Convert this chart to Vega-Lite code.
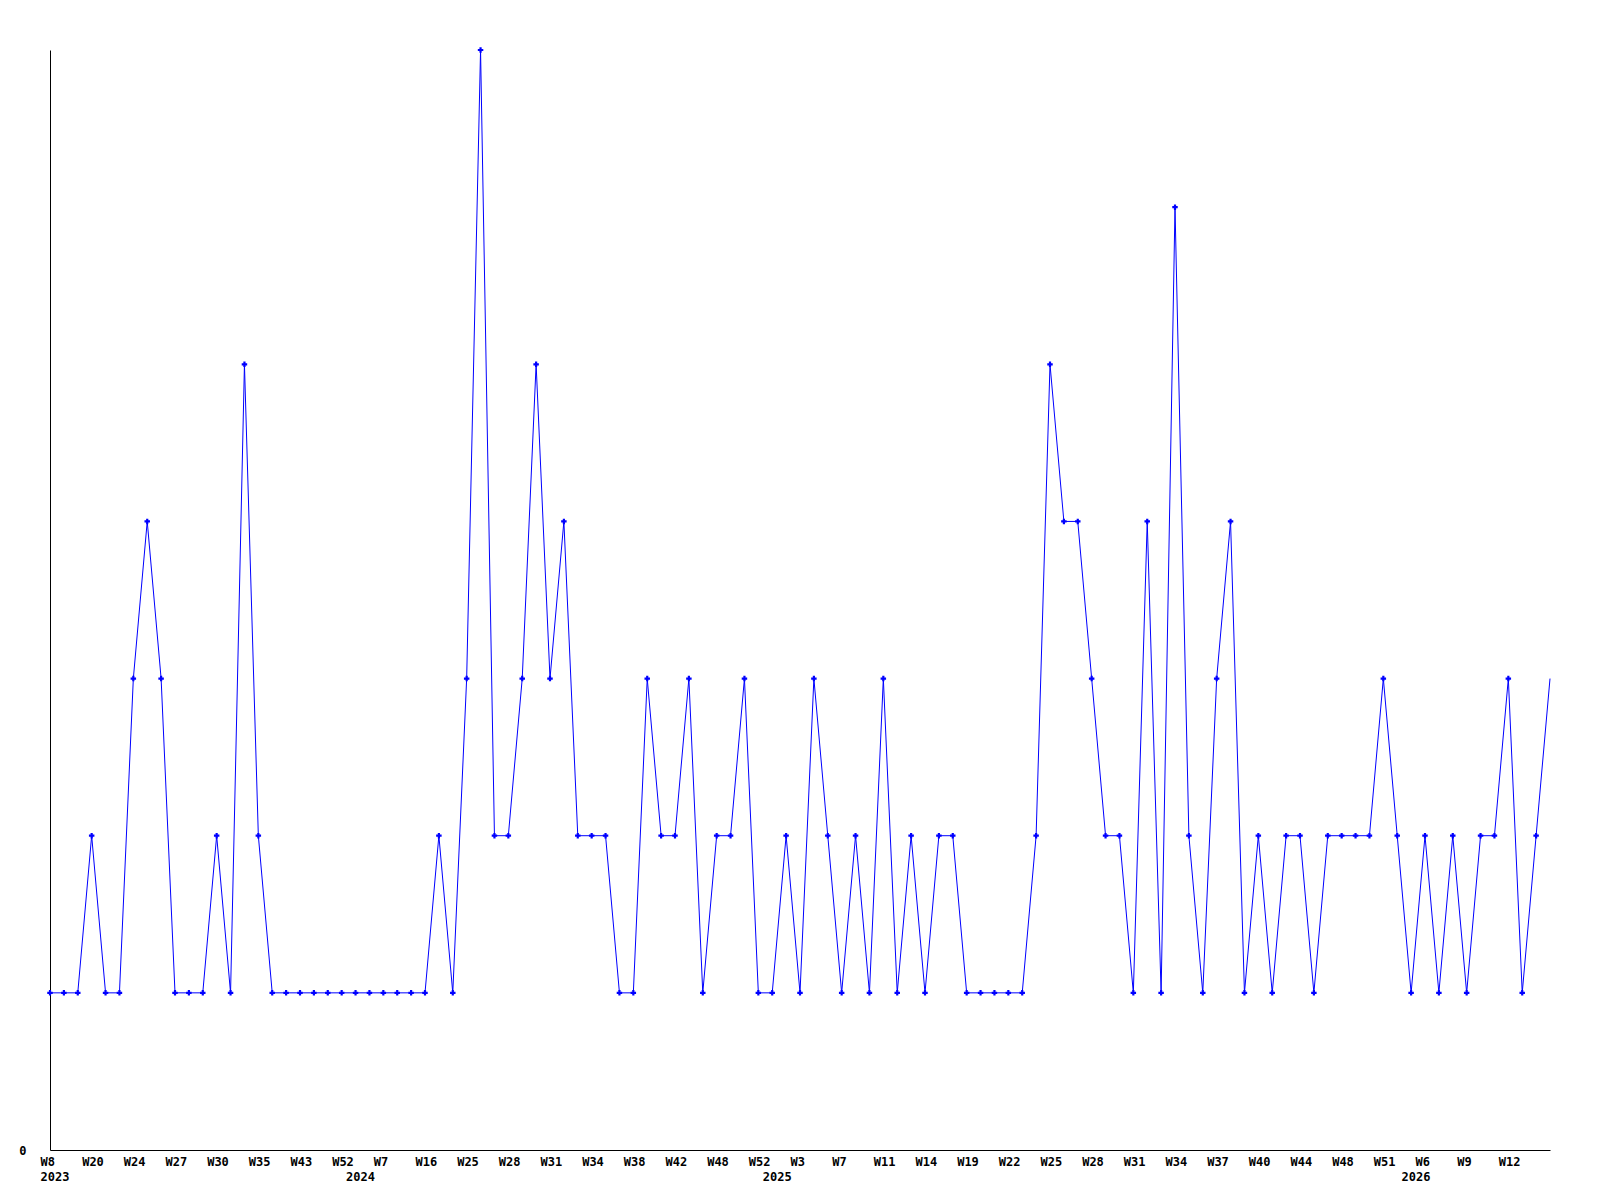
{
  "$schema": "https://vega.github.io/schema/vega-lite/v6.json",
  "width": 1500,
  "height": 1100,
  "autosize": "none",
  "padding": {"left": 50, "top": 50, "right": 50, "bottom": 50},
  "background": "white",
  "config": {"view": {"stroke": null}},
  "data": {"values": [
    {"week": "2023-W08", "count": 1}, {"week": "2023-W12", "count": 1}, {"week": "2023-W16", "count": 1},
    {"week": "2023-W20", "count": 2}, {"week": "2023-W21", "count": 1}, {"week": "2023-W22", "count": 1},
    {"week": "2023-W24", "count": 3}, {"week": "2023-W25", "count": 4}, {"week": "2023-W26", "count": 3},
    {"week": "2023-W27", "count": 1}, {"week": "2023-W28", "count": 1}, {"week": "2023-W29", "count": 1},
    {"week": "2023-W30", "count": 2}, {"week": "2023-W32", "count": 1}, {"week": "2023-W33", "count": 5},
    {"week": "2023-W35", "count": 2}, {"week": "2023-W38", "count": 1}, {"week": "2023-W40", "count": 1},
    {"week": "2023-W43", "count": 1}, {"week": "2023-W46", "count": 1}, {"week": "2023-W49", "count": 1},
    {"week": "2023-W52", "count": 1}, {"week": "2024-W01", "count": 1}, {"week": "2024-W04", "count": 1},
    {"week": "2024-W07", "count": 1}, {"week": "2024-W10", "count": 1}, {"week": "2024-W13", "count": 1},
    {"week": "2024-W16", "count": 1}, {"week": "2024-W19", "count": 2}, {"week": "2024-W22", "count": 1},
    {"week": "2024-W25", "count": 3}, {"week": "2024-W26", "count": 7}, {"week": "2024-W27", "count": 2},
    {"week": "2024-W28", "count": 2}, {"week": "2024-W29", "count": 3}, {"week": "2024-W30", "count": 5},
    {"week": "2024-W31", "count": 3}, {"week": "2024-W32", "count": 4}, {"week": "2024-W33", "count": 2},
    {"week": "2024-W34", "count": 2}, {"week": "2024-W35", "count": 2}, {"week": "2024-W37", "count": 1},
    {"week": "2024-W38", "count": 1}, {"week": "2024-W39", "count": 3}, {"week": "2024-W40", "count": 2},
    {"week": "2024-W42", "count": 2}, {"week": "2024-W44", "count": 3}, {"week": "2024-W46", "count": 1},
    {"week": "2024-W48", "count": 2}, {"week": "2024-W50", "count": 2}, {"week": "2024-W51", "count": 3},
    {"week": "2024-W52", "count": 1}, {"week": "2025-W01", "count": 1}, {"week": "2025-W02", "count": 2},
    {"week": "2025-W03", "count": 1}, {"week": "2025-W04", "count": 3}, {"week": "2025-W06", "count": 2},
    {"week": "2025-W07", "count": 1}, {"week": "2025-W08", "count": 2}, {"week": "2025-W10", "count": 1},
    {"week": "2025-W11", "count": 3}, {"week": "2025-W12", "count": 1}, {"week": "2025-W13", "count": 2},
    {"week": "2025-W14", "count": 1}, {"week": "2025-W16", "count": 2}, {"week": "2025-W18", "count": 2},
    {"week": "2025-W19", "count": 1}, {"week": "2025-W20", "count": 1}, {"week": "2025-W21", "count": 1},
    {"week": "2025-W22", "count": 1}, {"week": "2025-W23", "count": 1}, {"week": "2025-W24", "count": 2},
    {"week": "2025-W25", "count": 5}, {"week": "2025-W26", "count": 4}, {"week": "2025-W27", "count": 4},
    {"week": "2025-W28", "count": 3}, {"week": "2025-W29", "count": 2}, {"week": "2025-W30", "count": 2},
    {"week": "2025-W31", "count": 1}, {"week": "2025-W32", "count": 4}, {"week": "2025-W33", "count": 1},
    {"week": "2025-W34", "count": 6}, {"week": "2025-W35", "count": 2}, {"week": "2025-W36", "count": 1},
    {"week": "2025-W37", "count": 3}, {"week": "2025-W38", "count": 4}, {"week": "2025-W39", "count": 1},
    {"week": "2025-W40", "count": 2}, {"week": "2025-W42", "count": 1}, {"week": "2025-W43", "count": 2},
    {"week": "2025-W44", "count": 2}, {"week": "2025-W45", "count": 1}, {"week": "2025-W46", "count": 2},
    {"week": "2025-W48", "count": 2}, {"week": "2025-W49", "count": 2}, {"week": "2025-W50", "count": 2},
    {"week": "2025-W51", "count": 3}, {"week": "2025-W52", "count": 2}, {"week": "2026-W02", "count": 1},
    {"week": "2026-W06", "count": 2}, {"week": "2026-W07", "count": 1}, {"week": "2026-W08", "count": 2},
    {"week": "2026-W09", "count": 1}, {"week": "2026-W10", "count": 2}, {"week": "2026-W11", "count": 2},
    {"week": "2026-W12", "count": 3}, {"week": "2026-W13", "count": 1}, {"week": "2026-W14", "count": 2},
    {"week": "2026-W15", "count": 3}
  ]},
  "encoding": {
    "x": {
      "field": "week",
      "type": "ordinal",
      "scale": {"type": "point", "padding": 0},
      "axis": {
        "title": null,
        "ticks": false,
        "grid": false,
        "domainColor": "black",
        "domainWidth": 1,
        "labelAngle": 0,
        "labelAlign": "left",
        "labelOffset": -10,
        "labelOverlap": false,
        "labelBound": false,
        "labelFlush": false,
        "labelPadding": 6,
        "labelFont": "DejaVu Sans Mono",
        "labelFontWeight": "bold",
        "labelFontSize": 12,
        "labelColor": "black",
        "labelLineHeight": 15,
        "labelBaseline": "top",
        "values": ["2023-W08", "2023-W20", "2023-W24", "2023-W27", "2023-W30", "2023-W35", "2023-W43", "2023-W52", "2024-W01", "2024-W07", "2024-W16", "2024-W25", "2024-W28", "2024-W31", "2024-W34", "2024-W38", "2024-W42", "2024-W48", "2024-W52", "2025-W01", "2025-W03", "2025-W07", "2025-W11", "2025-W14", "2025-W19", "2025-W22", "2025-W25", "2025-W28", "2025-W31", "2025-W34", "2025-W37", "2025-W40", "2025-W44", "2025-W48", "2025-W51", "2026-W02", "2026-W06", "2026-W09", "2026-W12"],
        "labelExpr": "[indexof(['2024-W01','2025-W01','2026-W02'], datum.value) >= 0 ? '' : 'W' + toNumber(substring(datum.value, 6)), indexof(['2023-W08','2024-W01','2025-W01','2026-W02'], datum.value) >= 0 ? substring(datum.value, 0, 4) : '']"
      }
    },
    "y": {
      "field": "count",
      "type": "quantitative",
      "scale": {"domain": [0, 7], "nice": false, "zero": true},
      "axis": {
        "title": null,
        "ticks": false,
        "grid": false,
        "values": [0],
        "domainColor": "black",
        "domainWidth": 1,
        "labelPadding": 24,
        "labelFont": "DejaVu Sans Mono",
        "labelFontWeight": "bold",
        "labelFontSize": 12,
        "labelColor": "black"
      }
    }
  },
  "layer": [
    {"mark": {"type": "line", "color": "#0000ff", "strokeWidth": 1}},
    {
      "transform": [{"filter": "datum.week != '2026-W15'"}],
      "mark": {"type": "point", "shape": "cross", "filled": true, "color": "#0000ff", "size": 30, "opacity": 1}
    }
  ]
}
